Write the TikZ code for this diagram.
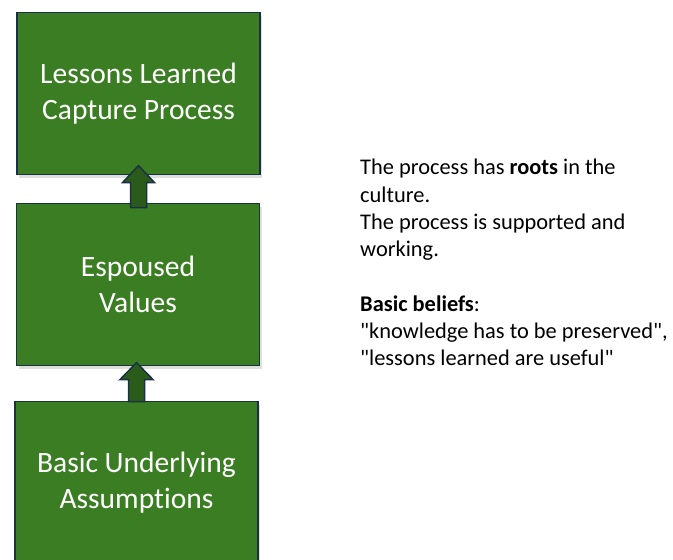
\documentclass[tikz,border=0pt]{standalone}
\usepackage{fontspec}
\setmainfont{Carlito}[Ligatures={TeXOff,NoCommon,NoContextual}]
\usetikzlibrary{calc,shadows}
\definecolor{layergreen}{HTML}{3B7D23}
\definecolor{layerline}{HTML}{1A3045}
\definecolor{arrowgreen}{HTML}{2B5B1B}
\begin{document}
\begin{tikzpicture}[x=1pt,y=-1pt,
  layer/.style={draw=layerline, line width=1.8pt, fill=layergreen,
    minimum width=243pt, minimum height=162pt, inner sep=0pt,
    text=white, align=center, font=\fontsize{29.5}{36}\selectfont,
    drop shadow={shadow xshift=2pt, shadow yshift=-3pt, opacity=0.25}},
  blockarrow/.style={draw=layerline, line width=1.5pt, fill=arrowgreen, line join=miter},
  note/.style={anchor=north west, align=left, inner sep=0pt,
    font=\fontsize{22.4}{27.3}\selectfont}]
\useasboundingbox (0,0) rectangle (673,560);
\clip (0,0) rectangle (673,560);

% the three stacked layers
\node[layer] (capture) at (138.5,93.5) {Lessons Learned\\Capture Process};
\node[layer] (values) at (138,284.5) {Espoused\\Values};
\node[layer] (assume) at (136.5,482.5) {Basic Underlying\\Assumptions};

% block arrows pointing upward between the layers
\path (values.north) ++(0.5,5) coordinate (a1);
\draw[blockarrow] (a1) ++(-8,0) -- ++(0,-25) -- ++(-8,0) -- ++(16,-17)
  -- ++(16,17) -- ++(-8,0) -- ++(0,25) -- cycle;
\path (assume.north) ++(0,1) coordinate (a2);
\draw[blockarrow] (a2) ++(-8,0) -- ++(0,-22) -- ++(-8.5,0) -- ++(16.5,-17)
  -- ++(16.5,17) -- ++(-8.5,0) -- ++(0,22) -- cycle;

% explanatory text
\node[note] (explain) at (360,159) {The process has \textbf{roots} in the\\
culture.\\
The process is supported and\\
working.\\[27.3pt]
\textbf{Basic beliefs}:\\
"knowledge has to be preserved",\\
"lessons learned are useful"};
\end{tikzpicture}
\end{document}
